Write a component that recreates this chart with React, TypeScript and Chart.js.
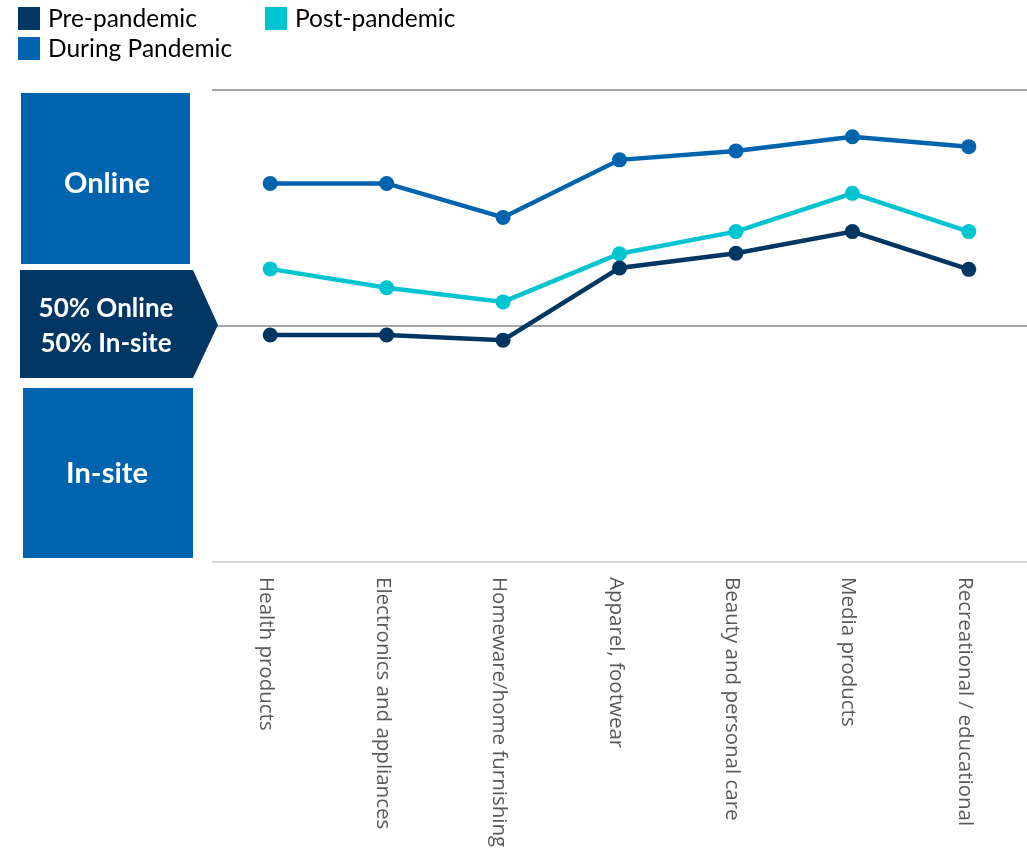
import React, { useEffect, useRef } from "react";
import { Chart, registerables } from "chart.js";

Chart.register(...registerables);

const categories = [
  "Health products",
  "Electronics and appliances",
  "Homeware/home furnishing",
  "Apparel, footwear",
  "Beauty and personal care",
  "Media products",
  "Recreational / educational",
];
const prePandemic = [48.1, 48.1, 47.0, 62.3, 65.4, 70.0, 62.0];
const duringPandemic = [80.2, 80.2, 73.0, 85.2, 87.1, 90.1, 88.0];
const postPandemic = [62.1, 58.1, 55.1, 65.3, 70.0, 78.1, 70.0];
const yTicks = [0, 50, 100];
const seriesNames = ["Pre-pandemic", "During Pandemic", "Post-pandemic"];

const NAVY = "#003663";
const BLUE = "#0063ae";
const CYAN = "#00c5d0";
const FONT = "Lato, 'Open Sans', sans-serif";
const LABEL_FONT = "'Open Sans', Lato, sans-serif";

const decorPlugin = {
  id: "decor",
  afterDraw(chart: any) {
    const ctx = chart.ctx as CanvasRenderingContext2D;
    const xs = chart.scales.x;
    // legend
    const legend = [
      { name: seriesNames[0], color: NAVY, x: 18, y: 7 },
      { name: seriesNames[2], color: CYAN, x: 265, y: 7 },
      { name: seriesNames[1], color: BLUE, x: 18, y: 37 },
    ];
    ctx.save();
    legend.forEach((l) => {
      ctx.fillStyle = l.color;
      ctx.fillRect(l.x, l.y, 22, 23);
      ctx.fillStyle = "#000";
      ctx.font = `24.5px ${FONT}`;
      ctx.textAlign = "left";
      ctx.textBaseline = "alphabetic";
      ctx.fillText(l.name, l.x + 30, l.y + 20);
    });
    ctx.restore();

    // left boxes
    ctx.save();
    ctx.fillStyle = BLUE;
    ctx.fillRect(21, 93, 169, 171);
    ctx.fillRect(23, 388, 170, 170);
    ctx.fillStyle = NAVY;
    ctx.beginPath();
    ctx.moveTo(20, 270);
    ctx.lineTo(193, 270);
    ctx.lineTo(218, 325);
    ctx.lineTo(193, 378);
    ctx.lineTo(20, 378);
    ctx.closePath();
    ctx.fill();
    ctx.fillStyle = "#fff";
    ctx.textAlign = "center";
    ctx.textBaseline = "alphabetic";
    ctx.font = `bold 29px ${FONT}`;
    ctx.fillText("Online", 107, 193);
    ctx.fillText("In-site", 107, 483);
    ctx.font = `bold 26px ${FONT}`;
    ctx.fillText("50% Online", 106, 317);
    ctx.fillText("50% In-site", 106, 352);
    ctx.restore();

    // x labels (rotated, reading top to bottom)
    ctx.save();
    ctx.fillStyle = "#595959";
    ctx.font = `20.5px ${LABEL_FONT}`;
    ctx.textAlign = "left";
    ctx.textBaseline = "alphabetic";
    categories.forEach((c, i) => {
      const x = xs.getPixelForValue(i);
      ctx.save();
      ctx.translate(x - 10, 577);
      ctx.rotate(Math.PI / 2);
      ctx.fillText(c, 0, 0);
      ctx.restore();
    });
    ctx.restore();
  },
};

export default function App() {
  const ref = useRef<HTMLCanvasElement>(null);
  useEffect(() => {
    if (!ref.current) return;
    const mk = (label: string, data: number[], color: string) => ({
      label,
      data,
      borderColor: color,
      backgroundColor: color,
      borderWidth: 4.5,
      pointRadius: 7.5,
      pointHoverRadius: 7.5,
      pointBorderWidth: 0,
      pointBackgroundColor: color,
      tension: 0,
      fill: false,
    });
    const chart = new Chart(ref.current, {
      type: "line",
      data: {
        labels: categories,
        datasets: [
          mk(seriesNames[0], prePandemic, NAVY),
          mk(seriesNames[1], duringPandemic, BLUE),
          mk(seriesNames[2], postPandemic, CYAN),
        ],
      },
      options: {
        animation: false,
        responsive: false,
        layout: { autoPadding: false, padding: { left: 212, top: 90, right: 0, bottom: 292 } },
        plugins: { legend: { display: false }, tooltip: { enabled: false } },
        scales: {
          x: { display: false, offset: true },
          y: {
            display: true,
            min: 0,
            max: 100,
            afterBuildTicks: (axis: any) => {
              axis.ticks = yTicks.map((v) => ({ value: v }));
            },
            ticks: { display: false },
            border: { display: false },
            grid: {
              drawTicks: false,
              lineWidth: 2,
              color: (c: any) => (c.tick && c.tick.value === 0 ? "#d9d9d9" : "#a6a6a6"),
            },
          },
        },
      },
      plugins: [decorPlugin],
    });
    return () => chart.destroy();
  }, []);
  return (
    <div style={{ position: "absolute", left: 0, top: 0, width: 1027, height: 854, background: "#fff" }}>
      <canvas ref={ref} width={1027} height={854} style={{ display: "block" }} />
    </div>
  );
}
